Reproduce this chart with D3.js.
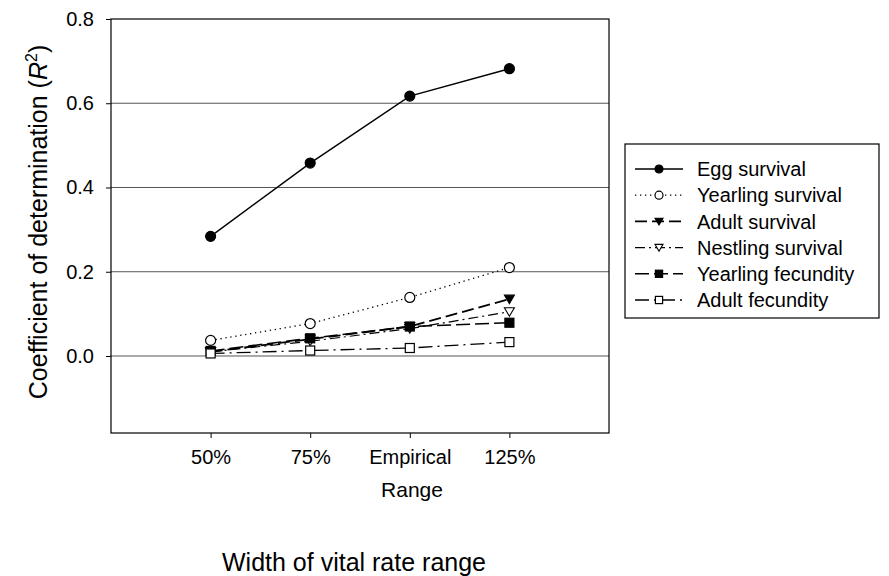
<!DOCTYPE html>
<html><head><meta charset="utf-8">
<script src="https://cdn.jsdelivr.net/npm/d3@7"></script>
<style>body{margin:0;background:#fff}svg{display:block}text{font-family:"Liberation Sans",Arial,sans-serif;fill:#000}</style>
</head><body><svg id="c" width="889" height="576"></svg>
<script>
const categories = ["50%", "75%", "Empirical", "125%"];
const yTicks = [0.0, 0.2, 0.4, 0.6, 0.8];
const seriesNames = ["Egg survival","Yearling survival","Adult survival","Nestling survival","Yearling fecundity","Adult fecundity"];
const eggSurvival = [0.284, 0.458, 0.617, 0.682];
const yearlingSurvival = [0.037, 0.077, 0.139, 0.210];
const adultSurvival = [0.010, 0.040, 0.070, 0.135];
const nestlingSurvival = [0.010, 0.035, 0.065, 0.105];
const yearlingFecundity = [0.012, 0.042, 0.070, 0.079];
const adultFecundity = [0.006, 0.013, 0.019, 0.033];
const seriesValues = [eggSurvival, yearlingSurvival, adultSurvival, nestlingSurvival, yearlingFecundity, adultFecundity];

const styles = [
  {dash:null, w:1.4, marker:"circle", fill:"#000"},
  {dash:"1.3,3.7", w:1.3, marker:"circle", fill:"#fff"},
  {dash:"12,5", w:1.8, marker:"triangle", fill:"#000"},
  {dash:"10,4,2,4", w:1.2, marker:"triangle", fill:"#fff"},
  {dash:"14,5", w:1.6, marker:"square", fill:"#000"},
  {dash:"14,5,2,5", w:1.3, marker:"square", fill:"#fff"}
];

const svg = d3.select("#c");
const L = 111, R = 609, T = 19, B = 433;
const x = d3.scaleLinear().domain([-1, 4]).range([L, R]);
const y = d3.scaleLinear().domain([-0.1828, 0.8]).range([B, T]);

// gridlines
svg.append("g").selectAll("line").data(yTicks.filter(d => d < 0.8)).join("line")
  .attr("x1", L).attr("x2", R).attr("y1", d => y(d)).attr("y2", d => y(d))
  .attr("stroke", "#555").attr("stroke-width", 1);

// frame
svg.append("rect").attr("x", L).attr("y", T).attr("width", R - L).attr("height", B - T)
  .attr("fill", "none").attr("stroke", "#000").attr("stroke-width", 1.2);

// y axis
const yAxis = d3.axisLeft(y).tickValues(yTicks).tickFormat(d3.format(".1f")).tickSize(5).tickPadding(12);
const gy = svg.append("g").attr("transform", `translate(${L},0)`).call(yAxis);
gy.select(".domain").remove();
gy.selectAll("text").style("font-size", "20px").style("font-family", '"Liberation Sans",Arial,sans-serif');

// x axis
const xAxis = d3.axisBottom(x).tickValues([0,1,2,3]).tickFormat(i => categories[i]).tickSize(5).tickPadding(12);
const gx = svg.append("g").attr("transform", `translate(0,${B})`).call(xAxis);
gx.select(".domain").remove();
gx.selectAll("text").style("font-size", "20px").style("font-family", '"Liberation Sans",Arial,sans-serif');

// axis titles
svg.append("text").attr("x", 412).attr("y", 497).attr("text-anchor", "middle").style("font-size", "21px").text("Range");
svg.append("text").attr("x", 354).attr("y", 571).attr("text-anchor", "middle").style("font-size", "25px").text("Width of vital rate range");
const yl = svg.append("text").attr("transform", "translate(47,222) rotate(-90)").attr("text-anchor", "middle").style("font-size", "25px");
yl.append("tspan").text("Coefficient of determination (");
yl.append("tspan").style("font-style", "italic").text("R");
yl.append("tspan").attr("dy", -10).style("font-size", "16px").text("2");
yl.append("tspan").attr("dy", 10).text(")");

function marker(g, type, cx, cy, fill, s) {
  if (type === "circle") {
    g.append("circle").attr("cx", cx).attr("cy", cy).attr("r", s * 0.5).attr("fill", fill).attr("stroke", "#000").attr("stroke-width", 1.2);
  } else if (type === "square") {
    g.append("rect").attr("x", cx - s*0.45).attr("y", cy - s*0.45).attr("width", s*0.9).attr("height", s*0.9).attr("fill", fill).attr("stroke", "#000").attr("stroke-width", 1.2);
  } else {
    const h = s * 0.5;
    g.append("path").attr("d", `M${cx-h},${cy-h*0.8}L${cx+h},${cy-h*0.8}L${cx},${cy+h*0.9}Z`).attr("fill", fill).attr("stroke", "#000").attr("stroke-width", 1.1);
  }
}

const line = d3.line().x((d, i) => x(i)).y(d => y(d));
const plot = svg.append("g");
seriesValues.forEach((vals, k) => {
  const st = styles[k];
  plot.append("path").datum(vals).attr("d", line).attr("fill", "none").attr("stroke", "#000")
    .attr("stroke-width", st.w).attr("stroke-dasharray", st.dash);
});
seriesValues.forEach((vals, k) => {
  const st = styles[k];
  vals.forEach((v, i) => marker(plot, st.marker, x(i), y(v), st.fill, 10));
});

// legend
const lg = svg.append("g");
lg.append("rect").attr("x", 625).attr("y", 144).attr("width", 254).attr("height", 174).attr("fill", "#fff").attr("stroke", "#000").attr("stroke-width", 1.2);
seriesNames.forEach((name, k) => {
  const st = styles[k];
  const cy = 169 + k * 26.2;
  lg.append("line").attr("x1", 635).attr("x2", 683).attr("y1", cy).attr("y2", cy).attr("stroke", "#000")
    .attr("stroke-width", st.w).attr("stroke-dasharray", st.dash);
  marker(lg, st.marker, 659, cy, st.fill, 8);
  lg.append("text").attr("x", 697).attr("y", cy).attr("dy", "0.36em").style("font-size", "20px").text(name);
});
</script></body></html>
